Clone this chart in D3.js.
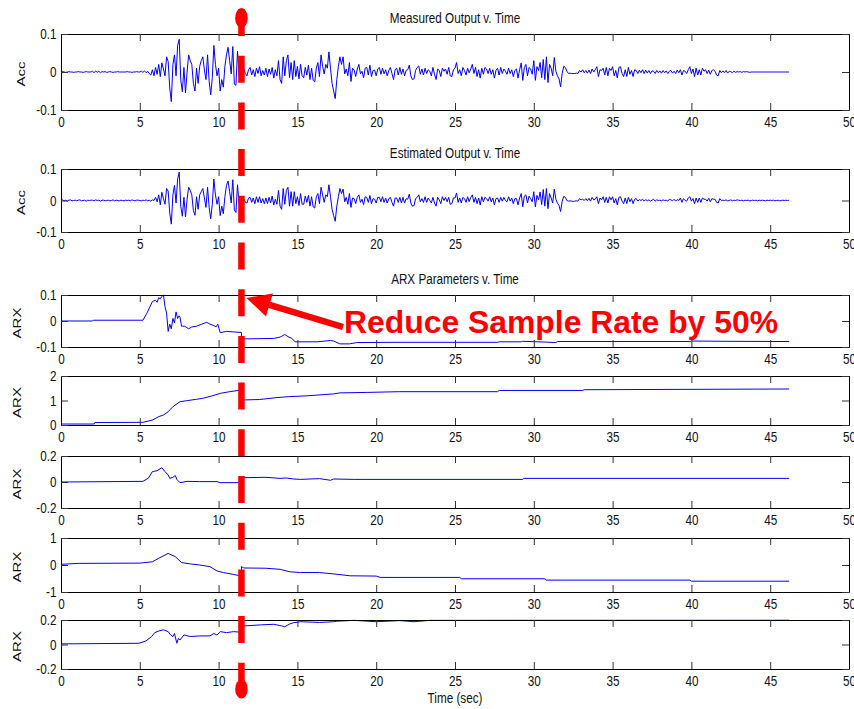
<!DOCTYPE html>
<html>
<head>
<meta charset="utf-8">
<script src="https://cdn.jsdelivr.net/npm/d3@7"></script>
<style>
  html, body { margin: 0; padding: 0; background: #fff; }
  svg { display: block; }
  text { font-family: "Liberation Sans", Arial, Helvetica, sans-serif; }
</style>
</head>
<body>
<svg id="chart" width="854" height="709"></svg>
<script>
// ---------------------------------------------------------------------------
// Data
// ---------------------------------------------------------------------------
const sampleInterval = 0.1;           // seconds between acceleration samples
const rateChangeTime = 11.45;         // time at which the sample rate is halved

const timeTicks = [0, 5, 10, 15, 20, 25, 30, 35, 40, 45, 50];
const accTicks = [-0.1, 0, 0.1];
const arxTicks1 = [-0.1, 0, 0.1];
const arxTicks2 = [0, 1, 2];
const arxTicks3 = [-0.2, 0, 0.2];
const arxTicks4 = [-1, 0, 1];
const arxTicks5 = [-0.2, 0, 0.2];

// Measured acceleration, one row per second
const accMeasured = [
  0,.001,0,-.001,0,.001,0,0,-.001,0,
  0,.001,0,0,-.001,0,.001,0,0,0,
  .002,-.002,.003,-.001,.002,-.002,.001,0,.001,-.001,
  0,.001,0,-.001,0,0,.001,0,0,0,
  0,0,.001,0,0,-.001,0,0,.001,0,
  0,.002,-.001,.003,-.002,.002,-.004,-.008,.006,-.010,
  .012,-.006,.020,-.012,.024,.008,-.010,.040,.028,-.042,
  -.078,.020,.045,-.010,.070,.086,-.021,-.052,.012,-.055,
  .000,.045,.030,.020,-.030,-.050,.010,-.030,.015,.030,
  .040,.005,-.020,.045,-.025,-.060,-.015,.070,.020,-.010,
  .010,-.050,-.020,-.040,.015,.045,.065,.030,-.005,.067,
  -.032,-.035,.055,-.010,.005,.000,.008,-.004,-.010,.006,
  .012,-.008,.006,-.012,.010,-.004,.014,-.010,.004,-.008,
  .010,-.012,.008,-.006,.012,-.016,.006,-.010,.030,-.020,
  -.030,.040,-.010,.030,.045,-.015,.025,-.020,.030,-.012,
  .015,-.018,.020,-.010,-.015,.012,-.008,.018,-.020,.010,
  -.022,-.026,.010,.025,-.012,.045,.015,-.005,.020,.010,
  .053,.010,-.030,-.050,-.070,-.020,.015,.040,.020,.040,
  -.005,.008,-.010,.025,-.025,.010,.005,-.012,.008,.020,
  -.005,.002,-.015,.010,.012,-.008,.018,-.012,.004,.005,
  -.010,.008,.012,-.006,.010,-.005,.006,-.010,.004,.012,
  -.004,-.020,.006,.010,-.008,.012,-.006,.008,-.010,.004,
  .006,.018,-.010,-.020,-.018,.004,.012,.016,-.006,.008,
  -.008,.010,-.004,.006,.002,-.010,.012,-.006,-.020,.008,
  .004,-.012,.010,.002,.008,-.006,.012,-.010,-.012,.006,
  .010,.025,-.004,.006,-.010,.012,.004,-.008,.010,-.002,
  .008,.020,-.004,.012,-.012,.006,-.016,.010,-.006,.012,
  .008,-.004,.010,-.006,.006,-.016,.004,.010,-.008,.012,
  -.004,.008,.002,-.006,.010,-.004,.006,-.012,.004,.008,
  -.016,.006,.024,-.022,.012,.020,-.010,.012,.008,-.006,
  .030,-.022,.014,.004,.025,-.015,.033,-.020,.040,-.028,
  .020,.010,-.010,.038,.002,-.010,-.018,-.039,-.004,.015,
  .012,.002,-.004,-.003,-.004,-.004,-.004,-.003,-.004,.004,
  .000,.006,-.002,.004,-.003,.005,-.004,.008,.000,.006,
  .014,-.012,.006,.004,.010,-.008,.012,-.010,.010,.004,
  .014,-.010,.004,-.016,.012,.014,-.004,-.012,.006,-.012,
  .012,-.006,.004,-.012,.006,.004,-.004,.005,-.002,.006,
  -.004,.005,-.003,.004,-.004,.003,.002,-.004,.004,-.002,
  .003,-.003,.004,-.002,.003,-.004,.002,.004,-.003,.002,
  -.004,.005,-.002,.006,-.008,.004,.002,-.004,.006,.014,
  -.004,.008,-.012,.010,-.008,.006,-.008,.010,.002,.006,
  -.004,.005,-.006,.004,.006,.002,-.008,-.010,.004,-.002,
  .003,-.002,.004,-.003,.002,.001,-.002,.002,-.001,.001,
  0,.001,-.001,.001,0,.001,0,-.001,0,0,
  0,0,0,0,0,0,0,0,0,0,
  0,0,0,0,0,0,0,0,0,0,
  0,0,0
];

// Estimated acceleration from the recursive ARX model, one row per second
const accEstimated = [
  0,.002,-.001,.001,-.002,.001,.002,-.001,0,.001,
  -.001,.001,.002,-.001,0,.001,-.002,.001,0,.001,
  .001,-.001,.002,0,.001,-.002,.001,.001,-.001,0,
  .001,-.001,0,.002,-.001,.001,0,-.001,.001,0,
  -.001,.001,0,.001,-.001,.002,0,-.001,.001,.001,
  0,-.001,.001,0,.002,-.001,.001,-.002,.002,.000,
  .010,-.004,.018,-.014,.026,.006,-.012,.038,.030,-.040,
  -.075,.018,.048,-.008,.068,.090,-.018,-.050,.010,-.052,
  .004,.042,.032,.018,-.032,-.047,.012,-.028,.018,.028,
  .038,.008,-.022,.042,-.022,-.058,-.012,.068,.018,-.012,
  .012,-.048,-.018,-.042,.012,.048,.062,.028,-.008,.066,
  -.030,-.038,.050,-.012,.004,.002,.006,-.006,-.008,.008,
  .010,-.006,.008,-.010,.012,-.006,.012,-.008,.006,-.010,
  .008,-.010,.010,-.008,.014,-.014,.004,-.012,.032,-.018,
  -.028,.038,-.012,.032,.042,-.018,.028,-.018,.028,-.010,
  .012,-.016,.022,-.012,-.012,.014,-.006,.016,-.018,.012,
  -.020,-.024,.012,.022,-.010,.042,.018,-.006,.018,.012,
  .050,.012,-.028,-.048,-.066,-.018,.012,.038,.022,.036,
  -.004,.010,-.012,.022,-.022,.008,.006,-.010,.010,.018,
  -.006,.004,-.013,.012,.010,-.006,.016,-.010,.006,.004,
  -.008,.010,.010,-.004,.012,-.006,.008,-.008,.006,.010,
  -.006,-.018,.008,.008,-.006,.010,-.008,.010,-.008,.006,
  .004,.020,-.008,-.018,-.016,.006,.010,.018,-.004,.006,
  -.006,.012,-.006,.008,.000,-.008,.010,-.008,-.018,.010,
  .002,-.010,.012,.000,.010,-.004,.010,-.012,-.010,.008,
  .008,.024,-.006,.008,-.008,.010,.006,-.006,.012,-.004,
  .010,.018,-.006,.010,-.010,.008,-.014,.012,-.004,.010,
  .006,-.002,.012,-.004,.008,-.014,.006,.008,-.006,.010,
  -.002,.010,.000,-.004,.012,-.002,.008,-.010,.006,.006,
  -.014,.008,.022,-.020,.014,.018,-.008,.014,.006,-.004,
  .028,-.020,.016,.002,.027,-.013,.035,-.018,.038,-.026,
  .022,.008,-.008,.036,.004,-.008,-.016,-.035,-.002,.013,
  .010,.000,-.002,-.001,-.002,-.003,-.002,-.001,-.002,.006,
  .002,.004,.000,.006,-.001,.007,-.002,.010,.002,.004,
  .012,-.010,.008,.002,.012,-.006,.010,-.008,.012,.002,
  .012,-.008,.006,-.014,.010,.012,-.002,-.010,.008,-.010,
  .010,-.004,.006,-.010,.004,.006,-.002,.003,.000,.004,
  -.002,.003,-.001,.002,-.002,.001,.004,-.002,.002,.000,
  .001,-.001,.002,.000,.001,-.002,.004,.002,-.001,.004,
  -.002,.003,.000,.008,-.006,.006,.000,-.002,.008,.012,
  -.002,.006,-.010,.008,-.006,.008,-.006,.008,.004,.004,
  -.002,.007,-.004,.006,.004,.004,-.006,-.008,.006,.000,
  .001,.000,.002,-.001,.000,.002,-.001,.001,.000,.002,
  .001,.000,.001,-.001,.001,.000,.001,-.001,.000,.001,
  .000,.001,-.001,.001,.000,.001,.000,-.001,.001,.000,
  .001,.000,.001,-.001,.000,.001,-.001,.000,.001,.000,
  .001,.000,.001
];

// ARX parameter estimates as [time, value] breakpoints
const arxParam1 = [
  [0,0],[2.0,0],[2.05,.003],[5.2,.003],[5.45,.03],[5.8,.075],[6.0,.08],[6.1,.072],
  [6.2,.09],[6.3,.085],[6.4,.095],[6.5,.1],[6.6,.055],[6.7,.03],[6.8,-.04],[6.9,-.012],
  [7.0,-.03],[7.1,.01],[7.2,-.008],[7.3,.035],[7.4,.01],[7.5,.02],[7.55,.015],[7.65,-.02],
  [7.85,-.02],[8.1,-.03],[8.3,-.023],[8.6,-.02],[8.9,-.013],[9.25,-.005],[9.45,-.012],
  [9.7,-.018],[9.85,-.022],[9.95,-.012],[10.1,-.045],[10.5,-.04],[10.95,-.042],[11.45,-.044],
  [11.45,-.069],[13.5,-.067],[13.9,-.062],[14.2,-.052],[14.4,-.06],[14.65,-.067],[14.85,-.08],
  [16.25,-.08],[17.1,-.075],[17.3,-.077],[17.7,-.088],[18.3,-.088],[18.75,-.083],[21,-.082],
  [27.7,-.082],[27.8,-.080],[29.2,-.080],[29.3,-.078],[30.7,-.081],[31.4,-.083],[31.5,-.079],
  [39.9,-.079],[40.0,-.077],[42.0,-.078],[46.2,-.079]
];
const arxParam2 = [
  [0,.04],[2.1,.04],[2.15,.1],[5.2,.11],[5.8,.2],[6.2,.34],[6.5,.41],[6.8,.54],[7.1,.75],
  [7.55,.95],[7.95,.99],[8.6,1.05],[9.0,1.09],[9.55,1.18],[10.1,1.29],[10.7,1.36],[11.45,1.43],
  [11.45,1.02],[12.6,1.04],[13.7,1.12],[14.5,1.16],[15.6,1.19],[17.3,1.27],[17.7,1.31],
  [19.4,1.33],[21.5,1.36],[27.7,1.36],[27.8,1.41],[33.1,1.41],[33.2,1.44],[46.2,1.47]
];
const arxParam3 = [
  [0,0],[5.2,.005],[5.55,.03],[5.8,.08],[6.1,.087],[6.4,.11],[6.6,.08],[6.8,.054],[6.9,.028],
  [7.1,.036],[7.25,.05],[7.35,.02],[7.55,-.005],[8.0,.005],[8.8,.003],[9.9,.003],[10.1,-.005],
  [11.45,-.005],[11.45,.033],[13.0,.036],[13.9,.028],[14.3,.031],[14.75,.023],[15.2,.02],
  [16.4,.026],[17.1,.013],[17.3,.023],[18.6,.02],[29.3,.02],[29.35,.028],[46.2,.028]
];
const arxParam4 = [
  [0,.025],[1.1,.06],[5.0,.07],[5.8,.12],[6.2,.25],[6.8,.43],[6.9,.4],[7.25,.31],[7.65,.09],
  [8.2,.04],[8.8,0],[9.45,-.06],[9.9,-.22],[10.3,-.28],[10.95,-.35],[11.45,-.41],
  [11.45,-.06],[11.6,-.11],[13.0,-.12],[13.9,-.16],[14.5,-.25],[15.2,-.28],[16.4,-.28],
  [17.3,-.33],[18.35,-.4],[20.0,-.41],[20.25,-.46],[25.3,-.46],[25.4,-.51],[30.7,-.51],
  [30.8,-.56],[39.9,-.56],[40.0,-.6],[46.2,-.6]
];
const arxParam5 = [
  [0,.005],[4.95,.01],[5.4,.03],[5.75,.065],[5.95,.097],[6.2,.11],[6.5,.12],[6.8,.105],
  [6.95,.078],[7.1,.065],[7.2,.09],[7.35,.01],[7.45,.05],[7.55,.037],[7.8,.078],[8.2,.065],
  [8.8,.07],[9.45,.07],[9.7,.09],[9.9,.077],[10.1,.105],[10.5,.097],[10.95,.105],[11.45,.1],
  [11.45,.15],[12.65,.16],[13.5,.165],[14.0,.152],[14.2,.145],[14.5,.167],[14.75,.178],
  [15.2,.186],[16.4,.18],[17.3,.186],[17.5,.19],[18.6,.197],[20.0,.186],[21.5,.195],
  [22.4,.186],[23.4,.197],[46.2,.198]
];

// ---------------------------------------------------------------------------
// Layout
// ---------------------------------------------------------------------------
const svg = d3.select("#chart");
svg.append("rect").attr("width", 854).attr("height", 709).attr("fill", "#fff");

const SX = 0.78;          // horizontal condensing of all axis text
const FONT = 15;
const TICK = 7;

const x = d3.scaleLinear().domain([0, 50]).range([61, 849]);

const toSamples = arr => arr.map((v, i) => [i * sampleInterval, v]);

const panels = [
  { top: 34,  bottom: 110, domain: [-0.1, 0.1], ticks: accTicks,  label: "Acc", labelX: 24.5,
    title: "Measured Output v. Time", data: toSamples(accMeasured) },
  { top: 169, bottom: 232, domain: [-0.1, 0.1], ticks: accTicks,  label: "Acc", labelX: 24.5,
    title: "Estimated Output v. Time", data: toSamples(accEstimated) },
  { top: 295, bottom: 347, domain: [-0.1, 0.1], ticks: arxTicks1, label: "ARX", labelX: 21,
    title: "ARX Parameters v. Time", data: arxParam1 },
  { top: 376, bottom: 425, domain: [0, 2],      ticks: arxTicks2, label: "ARX", labelX: 21,
    data: arxParam2 },
  { top: 456, bottom: 508, domain: [-0.2, 0.2], ticks: arxTicks3, label: "ARX", labelX: 21,
    data: arxParam3 },
  { top: 538, bottom: 592, domain: [-1, 1],     ticks: arxTicks4, label: "ARX", labelX: 21,
    data: arxParam4 },
  { top: 620, bottom: 669, domain: [-0.2, 0.2], ticks: arxTicks5, label: "ARX", labelX: 21,
    data: arxParam5 }
];

function styleAxis(g) {
  g.selectAll("path.domain").attr("stroke", "#000").attr("stroke-width", 1);
  g.selectAll(".tick line").attr("stroke", "#333").attr("stroke-width", 1);
  g.selectAll("text").attr("font-size", FONT).attr("fill", "#111")
    .attr("font-family", "'Liberation Sans', Arial, sans-serif");
}

panels.forEach(p => {
  const y = d3.scaleLinear().domain(p.domain).range([p.bottom, p.top]);
  const g = svg.append("g");

  // signal trace
  g.append("path")
    .datum(p.data)
    .attr("fill", "none")
    .attr("stroke", "#0000ff")
    .attr("stroke-width", 1)
    .attr("stroke-linejoin", "round")
    .attr("d", d3.line().x(d => x(d[0])).y(d => y(d[1])));

  // bottom axis with labels, ticks pointing inward
  const gb = g.append("g").attr("transform", `translate(0,${p.bottom})`)
    .call(d3.axisBottom(x).tickValues(timeTicks).tickFormat(d => String(d))
      .tickSizeInner(-TICK).tickSizeOuter(0).tickPadding(6));
  styleAxis(gb);
  gb.selectAll("text").attr("transform", `scale(${SX},1)`);

  // top axis (ticks only)
  const gt = g.append("g").attr("transform", `translate(0,${p.top})`)
    .call(d3.axisTop(x).tickValues(timeTicks).tickFormat(() => "")
      .tickSizeInner(-TICK).tickSizeOuter(0));
  styleAxis(gt);

  // left axis with labels
  const gl = g.append("g").attr("transform", `translate(${x(0)},0)`)
    .call(d3.axisLeft(y).tickValues(p.ticks).tickFormat(d => String(d))
      .tickSizeInner(-TICK).tickSizeOuter(0).tickPadding(4));
  styleAxis(gl);
  gl.selectAll("text").attr("x", -4.5 / SX).attr("transform", `scale(${SX},1)`);

  // right axis (ticks only)
  const gr = g.append("g").attr("transform", `translate(${x(50)},0)`)
    .call(d3.axisRight(y).tickValues(p.ticks).tickFormat(() => "")
      .tickSizeInner(-TICK).tickSizeOuter(0));
  styleAxis(gr);

  // y label
  g.append("text")
    .attr("transform", `translate(${p.labelX},${(p.top + p.bottom) / 2 + 2}) rotate(-90) scale(1,${SX})`)
    .attr("text-anchor", "middle")
    .attr("font-size", FONT)
    .attr("fill", "#111")
    .text(p.label);

  // panel title
  if (p.title) {
    g.append("text")
      .attr("transform", `translate(${(x(0) + x(50)) / 2},${p.top - 11}) scale(${SX},1)`)
      .attr("text-anchor", "middle")
      .attr("font-size", FONT)
      .attr("fill", "#111")
      .text(p.title);
  }
});

// x label under the last panel
svg.append("text")
  .attr("transform", `translate(${(x(0) + x(50)) / 2},703) scale(${SX},1)`)
  .attr("text-anchor", "middle")
  .attr("font-size", FONT)
  .attr("fill", "#111")
  .text("Time (sec)");

// ---------------------------------------------------------------------------
// Sample-rate change marker
// ---------------------------------------------------------------------------
const red = "#ff0000";
const mx = x(rateChangeTime);
const over = svg.append("g");

over.append("line")
  .attr("x1", mx).attr("x2", mx).attr("y1", 9).attr("y2", 694)
  .attr("stroke", red).attr("stroke-width", 6.5)
  .attr("stroke-dasharray", "27,19.7");
over.append("ellipse").attr("cx", mx).attr("cy", 18).attr("rx", 6.3).attr("ry", 10).attr("fill", red);
over.append("ellipse").attr("cx", mx).attr("cy", 689).attr("rx", 6.3).attr("ry", 9.5).attr("fill", red);

// arrow pointing at the marker
const tip = [mx + 5, 298];
const tail = [343, 327];
const ang = Math.atan2(tail[1] - tip[1], tail[0] - tip[0]);
const headLen = 24, headHalf = 12;
const bx = tip[0] + headLen * Math.cos(ang), by = tip[1] + headLen * Math.sin(ang);
over.append("line")
  .attr("x1", tail[0]).attr("y1", tail[1]).attr("x2", bx).attr("y2", by)
  .attr("stroke", red).attr("stroke-width", 6.5);
over.append("polygon")
  .attr("points", [
    tip,
    [bx + headHalf * Math.sin(ang), by - headHalf * Math.cos(ang)],
    [bx - headHalf * Math.sin(ang), by + headHalf * Math.cos(ang)]
  ].map(p => p.join(",")).join(" "))
  .attr("fill", red);

over.append("text")
  .attr("x", 344).attr("y", 333)
  .attr("font-size", 31)
  .attr("font-weight", "bold")
  .attr("fill", red)
  .attr("textLength", 434)
  .attr("lengthAdjust", "spacingAndGlyphs")
  .text("Reduce Sample Rate by 50%");
</script>
</body>
</html>
